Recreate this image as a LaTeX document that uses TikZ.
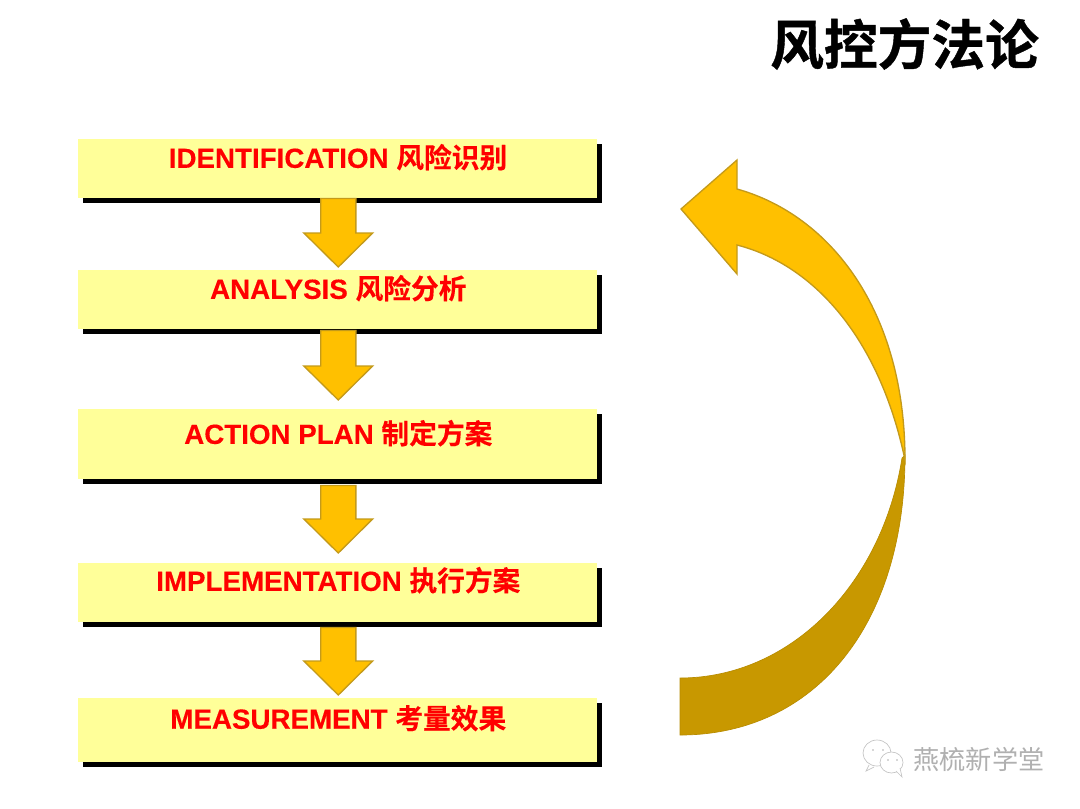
\documentclass[tikz,border=0pt]{standalone}
\usepackage{fontspec}
\setmainfont{Liberation Sans}[BoldFeatures={FakeBold=0.25}]
\newfontfamily\cjk{Noto Sans CJK SC}[BoldFont={Noto Sans CJK SC Bold},BoldFeatures={FakeBold=0.25}]
\newfontfamily\cjktitle{Noto Sans CJK SC}[BoldFont={Noto Sans CJK SC Bold},BoldFeatures={FakeBold=0.8}]
\newfontfamily\cjkwm{Noto Sans CJK SC}
\usetikzlibrary{calc,shadows}
\definecolor{boxyellow}{HTML}{FFFF99}
\definecolor{arrowgold}{HTML}{FFC000}
\definecolor{arrowedge}{HTML}{C49A1A}
\definecolor{arrowdark}{HTML}{C89800}
\definecolor{wmgrey}{HTML}{B0B0B0}
\tikzset{
  stepbox/.style={fill=boxyellow,draw=none,minimum width=389.25pt,inner sep=0pt,
    drop shadow={shadow xshift=3.75pt,shadow yshift=-3.75pt,fill=black,opacity=1}},
  steplabel/.style={font=\fontsize{20.8pt}{24pt}\selectfont\bfseries,text=red,inner sep=0pt},
  blockarrow/.style={fill=arrowgold,draw=arrowedge,line width=1pt,line join=miter},
  curveup/.style={fill=arrowgold,draw=arrowedge,line width=1pt,line join=miter},
  curvedown/.style={fill=arrowdark,draw=arrowdark!92!black,line width=0.5pt},
  bubble/.style={draw=wmgrey!75,line width=0.5pt,fill=white}
}
% from node, to node, gap below the from-box, gap above the to-box
\newcommand{\flowarrow}[4]{%
  \coordinate (tip) at ($(#2.north)+(0.5,-#4)$);
  \coordinate (top) at ($(#1.south)+(0.5,#3)$);
  \draw[blockarrow] let \p1=(top),\p2=(tip) in
    (\x1-13.2pt,\y1) -- (\x1+13.2pt,\y1) -- (\x1+13.2pt,\y2+25.5pt) -- (\x1+25.8pt,\y2+25.5pt)
    -- (\x2,\y2) -- (\x1-25.8pt,\y2+25.5pt) -- (\x1-13.2pt,\y2+25.5pt) -- cycle;
}
\begin{document}
\begin{tikzpicture}[x=0.75pt,y=-0.75pt]
\useasboundingbox (0,0) rectangle (1080,808);
\fill[white] (0,0) rectangle (1080,808);
% step boxes
\node[stepbox,minimum height=44.25pt,anchor=north west] (s1) at (78,139) {};
\node[stepbox,minimum height=44.25pt,anchor=north west] (s2) at (78,270) {};
\node[stepbox,minimum height=52.5pt,anchor=north west] (s3) at (78,409) {};
\node[stepbox,minimum height=44.25pt,anchor=north west] (s4) at (78,563) {};
\node[stepbox,minimum height=48pt,anchor=north west] (s5) at (78,698) {};
\node[steplabel] (t1) at (338,157.2) {IDENTIFICATION {\cjk 风险识别}};
\node[steplabel] (t2) at (338.3,288.2) {ANALYSIS {\cjk 风险分析}};
\node[steplabel] (t3) at (338.3,433.2) {ACTION PLAN {\cjk 制定方案}};
\node[steplabel] (t4) at (338.3,580.2) {IMPLEMENTATION {\cjk 执行方案}};
\node[steplabel] (t5) at (338.3,718.2) {MEASUREMENT {\cjk 考量效果}};
% block arrows
\flowarrow{s1}{s2}{0}{3}
\flowarrow{s2}{s3}{1}{9}
\flowarrow{s3}{s4}{6}{10}
\flowarrow{s4}{s5}{5}{3}
% big return arrow
\draw[curvedown] (680,678) .. controls (790,678) and (882,585) .. (902,458)
  -- (905,455) .. controls (905,625) and (815,735) .. (680,735) -- cycle;
\draw[curveup] (681,209) -- (737,160) -- (737,189)
  .. controls (830,215) and (905,310) .. (905,460)
  .. controls (880,340) and (815,265) .. (737,245)
  -- (737,274) -- cycle;
% title
\node[font=\cjktitle\fontsize{40.3pt}{48pt}\selectfont\bfseries,text=black,inner sep=0pt] (title) at (904.5,44) {风控方法论};
% watermark
\draw[bubble] (877,753) ellipse (14 and 13);
\draw[bubble] (869,765) -- (866,771) -- (874,767);
\draw[bubble] (891.5,762.5) ellipse (11.5 and 10.5);
\draw[bubble] (896,771) -- (902,777) -- (900,768);
\fill[wmgrey] (873,750) circle (0.9) (883,750) circle (0.9) (888,760) circle (0.8) (897,760) circle (0.8);
\node[font=\cjkwm\fontsize{19.6pt}{24pt}\selectfont,text=wmgrey,inner sep=0pt] (wm) at (979,759) {燕梳新学堂};
\end{tikzpicture}
\end{document}
